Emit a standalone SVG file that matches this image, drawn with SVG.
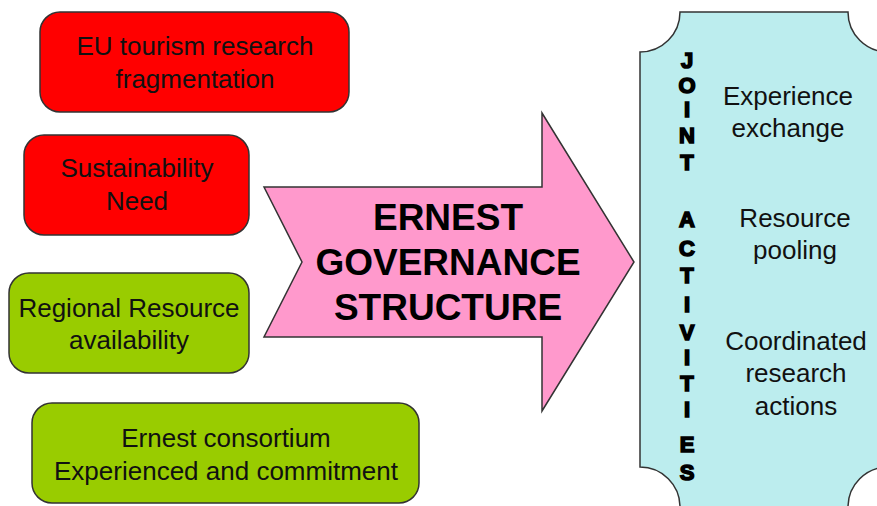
<svg xmlns="http://www.w3.org/2000/svg" width="877" height="506" viewBox="0 0 877 506">
<style>
.box{stroke:#333;stroke-width:1.5}
.red{fill:#FF0000}
.green{fill:#99CC00}
.t{font-family:"Liberation Sans",Arial,sans-serif;font-size:26px;fill:#111;text-anchor:middle}
.big{font-family:"Liberation Sans",Arial,sans-serif;font-size:37px;font-weight:bold;fill:#000;text-anchor:middle}
.v{font-family:"Liberation Sans",Arial,sans-serif;font-size:22px;font-weight:bold;fill:#000;text-anchor:middle;stroke:#000;stroke-width:1.6}
</style>
<rect width="877" height="506" fill="#fff"/>
<g id="n-fragmentation">
<rect class="box red" x="40" y="12" width="309" height="100" rx="20"/>
<text class="t" x="195" y="55">EU tourism research</text>
<text class="t" x="195" y="88">fragmentation</text>
</g>
<g id="n-sustainability">
<rect class="box red" x="24" y="135" width="225" height="100" rx="20"/>
<text class="t" x="137" y="177">Sustainability</text>
<text class="t" x="137" y="210">Need</text>
</g>
<g id="n-regional">
<rect class="box green" x="9" y="273" width="240" height="100" rx="20"/>
<text class="t" x="129" y="317">Regional Resource</text>
<text class="t" x="129" y="349">availability</text>
</g>
<g id="n-consortium">
<rect class="box green" x="32" y="403" width="387" height="100" rx="20"/>
<text class="t" x="226" y="447">Ernest consortium</text>
<text class="t" x="226" y="480">Experienced and commitment</text>
</g>
<g id="n-governance">
<path d="M264,187 H542 V113 L634,262 L542,411 V337 H264 L302,262 Z" fill="#FF99CC" stroke="#333" stroke-width="1.5" stroke-linejoin="miter"/>
<text class="big" x="448" y="230">ERNEST</text>
<text class="big" x="448" y="275">GOVERNANCE</text>
<text class="big" x="448" y="320">STRUCTURE</text>
</g>
<g id="n-joint-activities">
<path d="M680,12 H848 A40,40 0 0 0 888,52 V467 A40,40 0 0 0 848,507 H680 A40,40 0 0 0 640,467 V52 A40,40 0 0 0 680,12 Z" fill="#BCEDEE" stroke="#333" stroke-width="1.5"/>
<text class="v" x="687"><tspan x="687" y="68">J</tspan><tspan x="687" y="93">O</tspan><tspan x="687" y="117">I</tspan><tspan x="687" y="143">N</tspan><tspan x="687" y="170">T</tspan><tspan x="687" y="227">A</tspan><tspan x="687" y="256">C</tspan><tspan x="687" y="283">T</tspan><tspan x="687" y="312">I</tspan><tspan x="687" y="340">V</tspan><tspan x="687" y="365">I</tspan><tspan x="687" y="391">T</tspan><tspan x="687" y="417">I</tspan><tspan x="687" y="452">E</tspan><tspan x="687" y="480">S</tspan></text>
<text class="t" x="788" y="105">Experience</text>
<text class="t" x="788" y="137">exchange</text>
<text class="t" x="795" y="227">Resource</text>
<text class="t" x="795" y="259">pooling</text>
<text class="t" x="796" y="350">Coordinated</text>
<text class="t" x="796" y="382">research</text>
<text class="t" x="796" y="415">actions</text>
</g>
<g id="connectors"></g>
</svg>
